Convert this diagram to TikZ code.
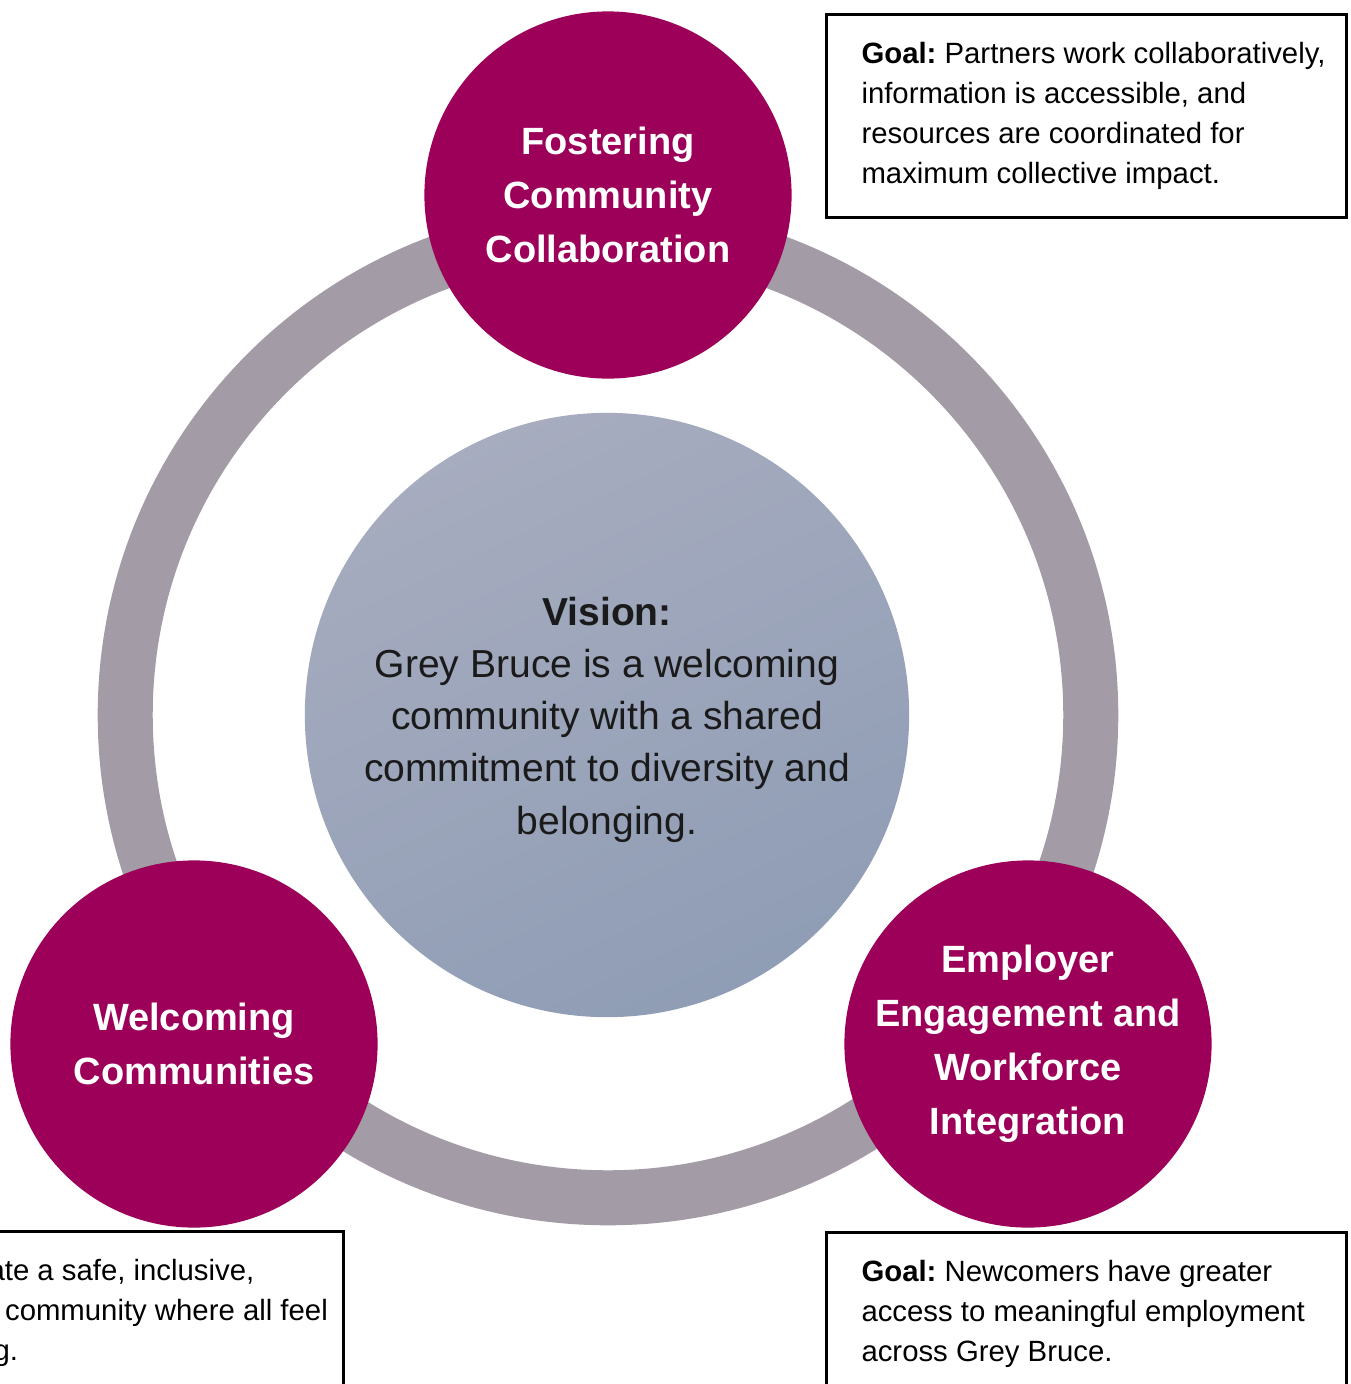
\documentclass[tikz,border=0pt]{standalone}
\usepackage{fontspec}
\setmainfont{Liberation Sans}
\definecolor{berry}{HTML}{9D0058}
\definecolor{ringgrey}{HTML}{A39BA5}
\definecolor{visiontop}{HTML}{A7ACBF}
\definecolor{visionbot}{HTML}{8F9DB5}
\definecolor{inkblack}{HTML}{1A1A1A}
\begin{document}
\begin{tikzpicture}[x=0.01cm, y=-0.01cm,
    pillar/.style={circle, fill=berry, minimum size=3.67cm, inner sep=0pt, text=white, align=center, font=\fontsize{10.8pt}{15.36pt}\selectfont\bfseries},
    goalbox/.style={draw=black, line width=0.85pt, anchor=north west, inner xsep=0.35cm, inner ysep=0.28cm, font=\fontsize{8.34pt}{11.38pt}\selectfont\frenchspacing}]
    % Canvas
    \useasboundingbox (0,0) rectangle (1350,1384);
    \clip (0,0) rectangle (1350,1384);
    % Centre of the ring and the three pillars
    \coordinate (C) at (608,715);
    \coordinate (Ptop) at (608,195);
    \coordinate (Pleft) at (194,1044);
    \coordinate (Pright) at (1028,1044);
    % Ring
    \node[circle, draw=ringgrey, line width=0.55cm, minimum size=9.65cm, inner sep=0pt] (ring) at (C) {};
    % Vision
    \node[circle, top color=visiontop, bottom color=visionbot, shading angle=25, minimum size=6.04cm, inner sep=0pt, align=center, text=inkblack, font=\fontsize{11.1pt}{14.8pt}\selectfont] (vision) at (607,715)
        {\\[-4pt]\textbf{Vision:}\\ Grey Bruce is a welcoming\\ community with a shared\\ commitment to diversity and\\ belonging.};
    % Pillars
    \node[pillar] (collab) at (Ptop) {Fostering\\ Community\\ Collaboration};
    \node[pillar] (welcome) at (Pleft) {Welcoming\\ Communities};
    \node[pillar] (employ) at (Pright) {Employer\\ Engagement and\\ Workforce\\ Integration};
    % Goals
    \node[goalbox] (goalcollab) at (825,13) {\parbox[t][1.47cm][t]{4.5cm}{\mbox{\textbf{Goal:} Partners work collaboratively,}\\ information is accessible, and\\ resources are coordinated for\\ maximum collective impact.}};
    \node[goalbox] (goalwelcome) at (-178,1230) {\parbox[t][1.47cm][t]{4.5cm}{\mbox{\hspace*{1.30cm}ate a safe, inclusive,}\\ \mbox{\hspace*{1.465cm}community where all feel}\\ \mbox{\hspace*{1.35cm}g.}}};
    \node[goalbox] (goalemploy) at (825,1231) {\parbox[t][1.47cm][t]{4.5cm}{\textbf{Goal:} Newcomers have greater\\ access to meaningful employment\\ across Grey Bruce.}};
\end{tikzpicture}
\end{document}
